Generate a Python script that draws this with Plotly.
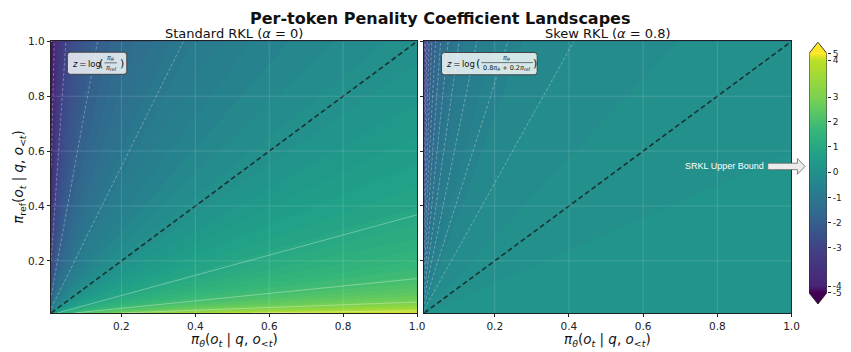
import numpy as np
import plotly.graph_objects as go

# ---------------- data ----------------
pi_theta = np.linspace(0.01, 1.0, 340)      # x grid  (policy prob)
pi_ref = np.linspace(0.01, 1.0, 340)        # y grid  (reference prob)
alpha_left = 0.0
alpha_right = 0.8
x_ticks = [0.2, 0.4, 0.6, 0.8, 1.0]
x_ticktext = ["0.2", "0.4", "0.6", "0.8", "1.0"]
y_ticks = [0.2, 0.4, 0.6, 0.8, 1.0]
y_ticktext = ["0.2", "0.4", "0.6", "0.8", "1.0"]
cbar_ticks = [-5, -4, -3, -2, -1, 0, 1, 2, 3, 4, 5]
cbar_ticktext = ["-5", "-4", "-3", "-2", "-1", "0", "1", "2", "3", "4", "5"]
fill_levels = np.linspace(-5, 5, 60)
left_neg_levels = (-4, -1, 1.0)     # start, end, step
left_pos_levels = (1, 4, 1.0)
right_neg_levels = (-3, -0.25, 0.25)
upper_bound = np.log(1.0 / alpha_right)   # SRKL upper bound

# ---------------- layout helpers (pixels) ----------------
W, H = 851, 352
def fx(px): return px / W
def fy(py): return 1 - py / H

L_X = (51.7, 421.0)
R_X = (428.3, 799.0)
P_Y = (36.0, 312.3)
CB_X = (816.7, 834.7)
CB_BODY = (48.3, 291.7)
CB_TIP = 11.5
# pixel positions of colorbar ticks (matplotlib uniform level spacing)
cbar_tick_px = [291.7, 285.0, 246.0, 220.5, 195.0, 169.0, 143.0, 118.0, 92.7, 55.0, 48.3]
body_len = CB_BODY[1] - CB_BODY[0]
cbar_tick_pos = [(CB_BODY[1] - p) / body_len for p in cbar_tick_px]
h_tip = CB_TIP / body_len

X, Y = np.meshgrid(pi_theta, pi_ref)

def landscape(alpha):
    return np.log(X / (alpha * X + (1 - alpha) * Y)).astype(np.float32)

Z_left = landscape(alpha_left)
Z_right = landscape(alpha_right)

fig = go.Figure()
fstep = fill_levels[1] - fill_levels[0]

def add_panel(Z, xa, ya, neg, pos):
    fig.add_trace(go.Contour(
        x=pi_theta, y=pi_ref, z=Z, xaxis=xa, yaxis=ya,
        colorscale="Viridis", autocontour=False,
        contours=dict(start=fill_levels[0], end=fill_levels[-1], size=fstep,
                      coloring="fill", showlines=False),
        line=dict(width=0), showscale=False, hoverinfo="skip"))
    if neg is not None:
        fig.add_trace(go.Contour(
            x=pi_theta, y=pi_ref, z=Z, xaxis=xa, yaxis=ya, autocontour=False,
            contours=dict(start=neg[0], end=neg[1], size=neg[2], coloring="none"),
            line=dict(color="rgba(255,255,255,0.45)", width=0.8, dash="3px,2px", smoothing=0),
            showscale=False, hoverinfo="skip"))
    if pos is not None:
        fig.add_trace(go.Contour(
            x=pi_theta, y=pi_ref, z=Z, xaxis=xa, yaxis=ya, autocontour=False,
            contours=dict(start=pos[0], end=pos[1], size=pos[2], coloring="none"),
            line=dict(color="rgba(255,255,255,0.45)", width=0.8, smoothing=0),
            showscale=False, hoverinfo="skip"))
    fig.add_trace(go.Scatter(
        x=[pi_theta[0], pi_theta[-1]], y=[pi_ref[0], pi_ref[-1]], xaxis=xa, yaxis=ya,
        mode="lines", line=dict(color="rgba(20,20,20,0.75)", width=1.6, dash="5px,3px"),
        hoverinfo="skip"))

add_panel(Z_left, "x", "y", left_neg_levels, left_pos_levels)
add_panel(Z_right, "x2", "y2", right_neg_levels, None)

# ---------- colorbar drawn as its own axes ----------
p_grid = np.linspace(0, 1, 400)
cb_vals = np.interp(p_grid, cbar_tick_pos, cbar_ticks)
fig.add_trace(go.Heatmap(
    x=[0.5], y=p_grid, z=cb_vals.reshape(-1, 1), xaxis="x3", yaxis="y3",
    colorscale="Viridis", zmin=-5, zmax=5, showscale=False, hoverinfo="skip"))
fig.add_trace(go.Scatter(x=[0, 0.5, 1, 0], y=[1, 1 + h_tip, 1, 1], xaxis="x3", yaxis="y3",
                         mode="lines", fill="toself", fillcolor="#fde725",
                         line=dict(width=0), hoverinfo="skip"))
fig.add_trace(go.Scatter(x=[0, 0.5, 1, 0], y=[0, -h_tip, 0, 0], xaxis="x3", yaxis="y3",
                         mode="lines", fill="toself", fillcolor="#440154",
                         line=dict(width=0), hoverinfo="skip"))
fig.add_trace(go.Scatter(x=[0, 0, 0.5, 1, 1, 0.5, 0], y=[0, 1, 1 + h_tip, 1, 0, -h_tip, 0],
                         xaxis="x3", yaxis="y3", mode="lines",
                         line=dict(color="#222", width=0.9), hoverinfo="skip"))

# ---------------- axes ----------------
FONT = "DejaVu Sans"
tickfont = dict(family=FONT, size=10.5, color="#222")
common_x = dict(range=[pi_theta[0], pi_theta[-1]], tickvals=x_ticks, ticktext=x_ticktext,
                ticks="outside", ticklen=3.5, tickcolor="#222", showline=True, linecolor="#222",
                linewidth=1, mirror=True, showgrid=False, zeroline=False, tickfont=tickfont)
common_y = dict(range=[pi_ref[0], pi_ref[-1]], tickvals=y_ticks, ticktext=y_ticktext,
                ticks="outside", ticklen=3.5, tickcolor="#222", showline=True, linecolor="#222",
                linewidth=1, mirror=True, showgrid=False, zeroline=False, tickfont=tickfont)

fig.update_layout(
    width=W, height=H, margin=dict(l=0, r=0, t=0, b=0), autosize=False,
    paper_bgcolor="white", plot_bgcolor="white", showlegend=False,
    xaxis=dict(domain=[fx(L_X[0]), fx(L_X[1])], anchor="y", **common_x),
    yaxis=dict(domain=[fy(P_Y[1]), fy(P_Y[0])], anchor="x", **common_y),
    xaxis2=dict(domain=[fx(R_X[0]), fx(R_X[1])], anchor="y2", **common_x),
    yaxis2=dict(domain=[fy(P_Y[1]), fy(P_Y[0])], anchor="x2", showticklabels=False, **common_y),
    xaxis3=dict(domain=[fx(CB_X[0]), fx(CB_X[1])], anchor="y3", range=[0, 1], visible=False),
    yaxis3=dict(domain=[fy(CB_BODY[1] + CB_TIP), fy(CB_BODY[0] - CB_TIP)], anchor="x3",
                range=[-h_tip, 1 + h_tip], side="right", tickvals=cbar_tick_pos,
                ticktext=cbar_ticktext, ticks="outside", ticklen=3, tickcolor="#222",
                showline=False, showgrid=False, zeroline=False,
                tickfont=dict(family=FONT, size=9, color="#222")),
)

# grid lines above the fills
shapes = []
for xa, ya in (("x", "y"), ("x2", "y2")):
    for t in x_ticks[:-1]:
        shapes.append(dict(type="line", xref=xa, yref=ya, x0=t, x1=t, y0=pi_ref[0], y1=pi_ref[-1],
                           line=dict(color="rgba(255,255,255,0.18)", width=0.8), layer="above"))
    for t in y_ticks[:-1]:
        shapes.append(dict(type="line", xref=xa, yref=ya, y0=t, y1=t, x0=pi_theta[0], x1=pi_theta[-1],
                           line=dict(color="rgba(255,255,255,0.18)", width=0.8), layer="above"))

def rounded_box(x0, y0, x1, y1, r=3):
    def P(px, py): return f"{fx(px):.5f},{fy(py):.5f}"
    return ("M " + P(x0 + r, y0) + " L " + P(x1 - r, y0) + " Q " + P(x1, y0) + " " + P(x1, y0 + r) +
            " L " + P(x1, y1 - r) + " Q " + P(x1, y1) + " " + P(x1 - r, y1) +
            " L " + P(x0 + r, y1) + " Q " + P(x0, y1) + " " + P(x0, y1 - r) +
            " L " + P(x0, y0 + r) + " Q " + P(x0, y0) + " " + P(x0 + r, y0) + " Z")

for bx in ((68, 47, 128, 69.5), (445.7, 47.3, 542.3, 70)):
    shapes.append(dict(type="path", xref="paper", yref="paper", path=rounded_box(*bx),
                       fillcolor="rgba(255,255,255,0.8)", line=dict(color="#444", width=1),
                       layer="above"))

# fraction bars
shapes.append(dict(type="line", xref="paper", yref="paper", x0=fx(105.5), x1=fx(118),
                   y0=fy(57.8), y1=fy(57.8), line=dict(color="#222", width=0.6), layer="above"))
shapes.append(dict(type="line", xref="paper", yref="paper", x0=fx(486), x1=fx(538),
                   y0=fy(57.6), y1=fy(57.6), line=dict(color="#222", width=0.6), layer="above"))

# SRKL upper bound arrow
cb_pos_ub = np.interp(upper_bound, cbar_ticks, cbar_tick_pos)
cy = CB_BODY[1] - cb_pos_ub * body_len
def AP(px, py): return f"{fx(px):.5f},{fy(py):.5f}"
arrow_path = ("M " + AP(775, cy - 3.3) + " L " + AP(805, cy - 3.3) + " L " + AP(805, cy - 8) +
              " L " + AP(812.7, cy) + " L " + AP(805, cy + 8) + " L " + AP(805, cy + 3.3) +
              " L " + AP(775, cy + 3.3) + " Z")
shapes.append(dict(type="path", xref="paper", yref="paper", path=arrow_path,
                   fillcolor="#ececec", line=dict(color="#666", width=0.8), layer="above"))
fig.update_layout(shapes=shapes)

ann = []
def A(text, px, py, size, xanchor="center", yanchor="middle", family=FONT, color="#111", **kw):
    ann.append(dict(text=text, x=fx(px), y=fy(py), xref="paper", yref="paper",
                    xanchor=xanchor, yanchor=yanchor, showarrow=False,
                    font=dict(family=family, size=size, color=color), **kw))

A("<b>Per-token Penality Coefficient Landscapes</b>", 444, 12.5, 16)
A("Standard RKL (<i>α</i> = 0)", (L_X[0] + L_X[1]) / 2, 28, 13)
A("Skew RKL (<i>α</i> = 0.8)", (R_X[0] + R_X[1]) / 2, 28, 13)
xlabel = "<i>π<sub>θ</sub></i>(<i>o<sub>t</sub></i> | <i>q</i>, <i>o</i><sub>&lt;<i>t</i></sub>)"
A(xlabel, (L_X[0] + L_X[1]) / 2, 339.5, 13.5)
A(xlabel, (R_X[0] + R_X[1]) / 2, 339.5, 13.5)
A("<i>π</i><sub>ref</sub>(<i>o<sub>t</sub></i> | <i>q</i>, <i>o</i><sub>&lt;<i>t</i></sub>)", 19, 174, 13.5,
  textangle=-90)

# formula boxes
A("<i>z</i>\u2009=\u2009log", 71, 58.5, 8.5, xanchor="left")
A("(", 101.8, 58.3, 11)
A("<i>π<sub>θ</sub></i>", 111.8, 53.3, 6.5)
A("<i>π</i><sub>ref</sub>", 111.8, 62.6, 6.5)
A(")", 123.5, 58.3, 11)

A("<i>z</i>\u2009=\u2009log", 448.5, 58.8, 8.5, xanchor="left")
A("(", 482.5, 58.6, 11)
A("<i>π<sub>θ</sub></i>", 511.8, 53.2, 6.5)
A("0.8<i>π<sub>θ</sub></i> + 0.2<i>π</i><sub>ref</sub>", 511.8, 62.6, 6.5)
A(")", 540.5, 58.6, 11)

A("SRKL Upper Bound", 731.7, cy, 9, family="Liberation Sans", color="white")

fig.update_layout(annotations=ann)
fig.write_html("out.html", config={"displayModeBar": False, "responsive": False},
               post_script="document.body.style.margin='0px';document.body.style.padding='0px';")
